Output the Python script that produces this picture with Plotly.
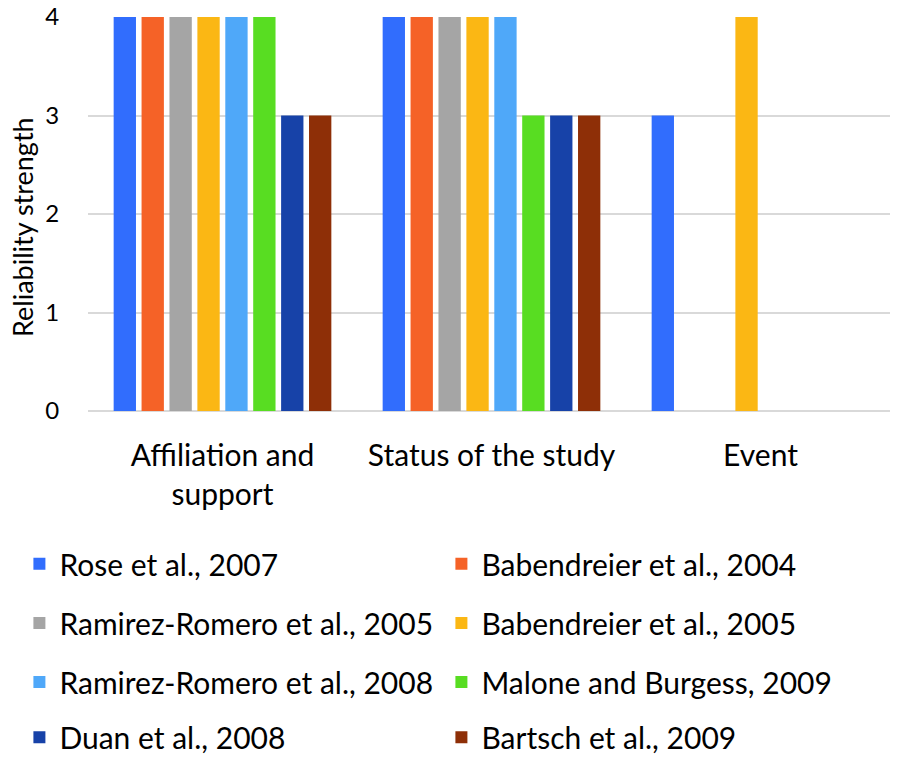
import plotly.graph_objects as go

# Data
categories = ["Affiliation and<br>support", "Status of the study", "Event"]

studies = ["Rose et al., 2007",
           "Babendreier et al., 2004",
           "Ramirez-Romero et al., 2005",
           "Babendreier et al., 2005",
           "Ramirez-Romero et al., 2008",
           "Malone and Burgess, 2009",
           "Duan et al., 2008",
           "Bartsch et al., 2009"]

rose_2007 = [4, 4, 3]
babendreier_2004 = [4, 4, None]
ramirez_2005 = [4, 4, None]
babendreier_2005 = [4, 4, 4]
ramirez_2008 = [4, 4, None]
malone_2009 = [4, 3, None]
duan_2008 = [3, 3, None]
bartsch_2009 = [3, 3, None]

values = [rose_2007, babendreier_2004, ramirez_2005, babendreier_2005,
          ramirez_2008, malone_2009, duan_2008, bartsch_2009]

colors = ["#316DFD", "#F56227", "#A5A5A5", "#FBB714",
          "#4FA8F9", "#58DD22", "#1742A8", "#8E2F07"]

FONT = "Lato"

fig = go.Figure()
for i, (name, vals, col) in enumerate(zip(studies, values, colors)):
    row = i // 2 + 1
    fig.add_trace(go.Bar(x=categories, y=vals, name=name,
                         marker=dict(color=col, line=dict(width=0)),
                         legend="legend" if row == 1 else f"legend{row}"))

# one horizontal legend per row, two entries each
legend_rows = {}
row_y = [-0.388, -0.538, -0.688, -0.828]
for r, yy in enumerate(row_y, start=1):
    key = "legend" if r == 1 else f"legend{r}"
    legend_rows[key] = dict(orientation="h", x=-0.085, y=yy, xanchor="left",
                            yanchor="middle", entrywidth=377, entrywidthmode="pixels",
                            font=dict(family=FONT, size=30, color="#000000"),
                            bgcolor="rgba(0,0,0,0)")

# page body has an 8px margin, so the figure is a bit smaller than the window
fig.update_layout(
    width=890, height=758,
    barmode="group", bargap=0.17, bargroupgap=0.2,
    plot_bgcolor="white", paper_bgcolor="white",
    margin=dict(l=80, r=3, t=9, b=355),
    font=dict(family=FONT, size=26, color="#000000"),
    xaxis=dict(showline=False, ticks="outside", ticklen=18, tickcolor="white",
               tickfont=dict(size=30), automargin=False),
    yaxis=dict(range=[0, 4], dtick=1, showgrid=True, gridcolor="#D9D9D9",
               gridwidth=2, zeroline=True, zerolinecolor="#D9D9D9", zerolinewidth=2,
               tickfont=dict(size=24), ticklen=23, ticks="outside", tickcolor="white",
               ticklabeloverflow="allow", automargin=False),
    annotations=[dict(text="Reliability strength", textangle=-90,
                      xref="paper", yref="paper", x=-0.0818, y=0.467,
                      xanchor="center", yanchor="middle", showarrow=False,
                      font=dict(family=FONT, size=27, color="#000000"))],
    **legend_rows,
)

fig.write_html("out.html")
